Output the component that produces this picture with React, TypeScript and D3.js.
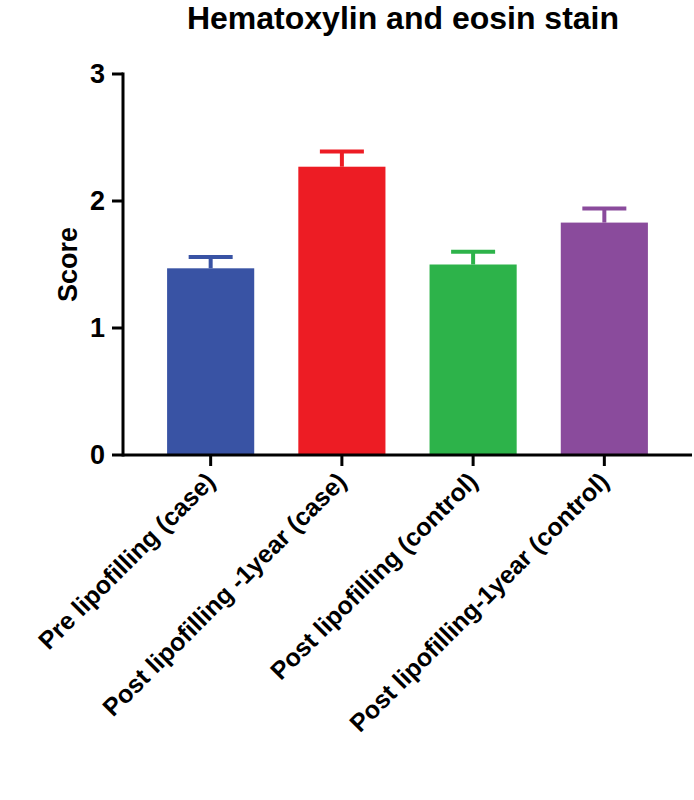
import React from 'react';
import * as d3 from 'd3';

const categories = [
  'Pre lipofilling (case)',
  'Post lipofilling -1year (case)',
  'Post lipofilling (control)',
  'Post lipofilling-1year (control)',
];
const means = [1.47, 2.27, 1.5, 1.83];
const errors = [0.09, 0.12, 0.1, 0.11];
const colors = ['#3953a4', '#ed1c24', '#2db34a', '#8a4b9c'];
const yTicks = [0, 1, 2, 3];

const W = 694;
const H = 800;
const margin = {left: 123, right: 2, top: 74, bottom: 345};

export default function App() {
  const x = d3
    .scaleBand<string>()
    .domain(categories)
    .range([margin.left, W - margin.right])
    .paddingInner(0.336)
    .paddingOuter(0.336);
  const y = d3.scaleLinear().domain([0, 3]).range([H - margin.bottom, margin.top]);
  const font = 'Liberation Sans, Arial, sans-serif';

  return (
    <svg width={W} height={H} style={{position: 'absolute', left: 0, top: 0}} fontFamily={font} fontWeight="bold">
      <text x={403} y={29} textAnchor="middle" fontSize={32}>Hematoxylin and eosin stain</text>
      <text transform={`translate(77,${y(1.5)}) rotate(-90)`} textAnchor="middle" fontSize={27}>Score</text>
      {categories.map((c, i) => {
        const cx = x(c)! + x.bandwidth() / 2;
        return (
          <g key={c}>
            <line x1={cx} x2={cx} y1={y(means[i])} y2={y(means[i] + errors[i])} stroke={colors[i]} strokeWidth={4} />
            <line x1={cx - 22} x2={cx + 22} y1={y(means[i] + errors[i])} y2={y(means[i] + errors[i])} stroke={colors[i]} strokeWidth={4} />
            <rect x={x(c)} y={y(means[i])} width={x.bandwidth()} height={y(0) - y(means[i])} fill={colors[i]} />
            <line x1={cx} x2={cx} y1={y(0)} y2={y(0) + 11} stroke="#000" strokeWidth={3} />
            <text transform={`translate(${cx + 6},${y(0) + 28}) rotate(-45)`} textAnchor="end" fontSize={25}>{c}</text>
          </g>
        );
      })}
      <line x1={margin.left} x2={W - margin.right} y1={y(0)} y2={y(0)} stroke="#000" strokeWidth={3} />
      <line x1={margin.left} x2={margin.left} y1={y(3) - 1.5} y2={y(0) + 1.5} stroke="#000" strokeWidth={3} />
      {yTicks.map((t) => (
        <g key={t}>
          <line x1={margin.left - 11} x2={margin.left} y1={y(t)} y2={y(t)} stroke="#000" strokeWidth={3} />
          <text x={margin.left - 18} y={y(t)} dy="0.35em" textAnchor="end" fontSize={27}>{t}</text>
        </g>
      ))}
    </svg>
  );
}
